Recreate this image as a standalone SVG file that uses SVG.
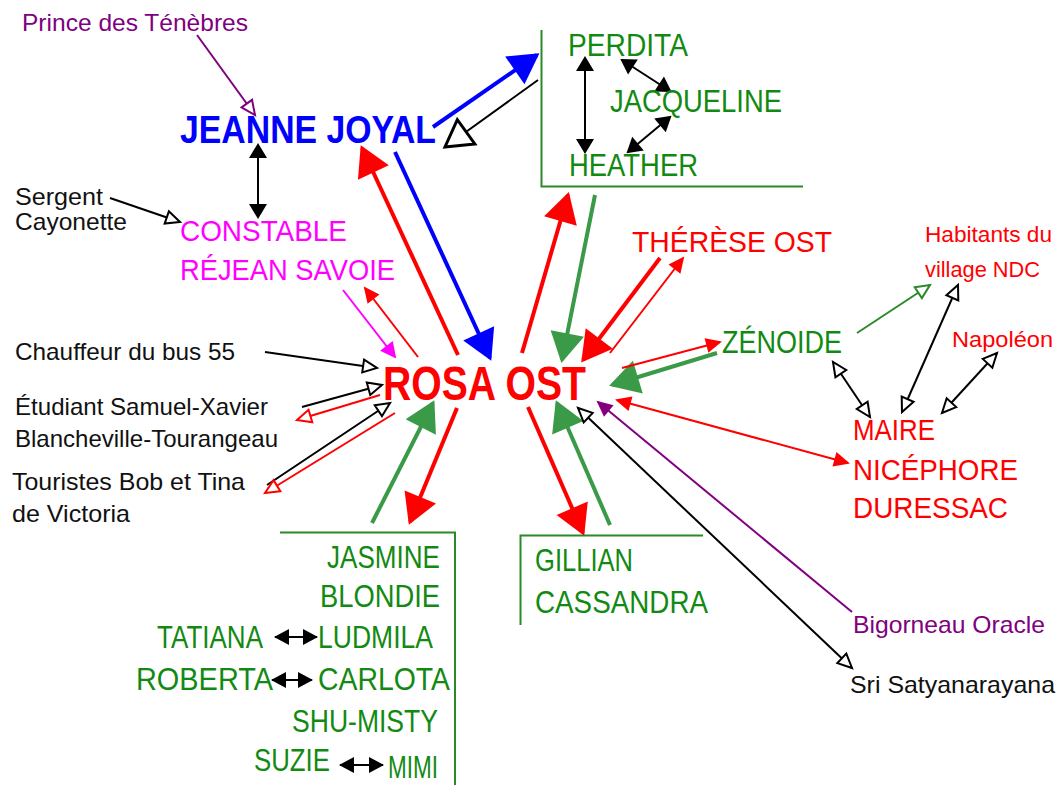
<svg xmlns="http://www.w3.org/2000/svg" width="1060" height="785" viewBox="0 0 1060 785">
<style>
text{font-family:"Liberation Sans",Arial,sans-serif;}
.s{font-size:24px;fill:#111}
.pu{fill:#800080}
.g{font-size:31px;fill:#128a12}
.r{fill:#ff0000}
.rm{font-size:30px;fill:#ff0000}
.mg{font-size:30px;fill:#ff00ff}
.thick{fill:none;stroke-width:4}
.thin{fill:none;stroke-width:2}
.box{fill:none;stroke:#2a8a2a;stroke-width:2}
</style>
<defs>
<marker id="bR" markerUnits="userSpaceOnUse" orient="auto-start-reverse" overflow="visible" refX="27" refY="0"><path d="M0,-17 L30,0 L0,17 Z" fill="#ff0000"/></marker>
<marker id="bB" markerUnits="userSpaceOnUse" orient="auto-start-reverse" overflow="visible" refX="27" refY="0"><path d="M0,-17 L30,0 L0,17 Z" fill="#0000ff"/></marker>
<marker id="bG" markerUnits="userSpaceOnUse" orient="auto-start-reverse" overflow="visible" refX="27" refY="0"><path d="M0,-17 L30,0 L0,17 Z" fill="#3a9a47"/></marker>
<marker id="bOK" markerUnits="userSpaceOnUse" orient="auto-start-reverse" overflow="visible" refX="26" refY="0"><path d="M0,-15 L26,0 L0,15 Z" fill="#fff" stroke="#000" stroke-width="3" stroke-linejoin="miter"/></marker>
<marker id="sK" markerUnits="userSpaceOnUse" orient="auto-start-reverse" overflow="visible" refX="13" refY="0"><path d="M0,-9 L15,0 L0,9 Z" fill="#000"/></marker>
<marker id="tK" markerUnits="userSpaceOnUse" orient="auto-start-reverse" overflow="visible" refX="14" refY="0"><path d="M0,-8 L15,0 L0,8 Z" fill="#000"/></marker>
<marker id="sR" markerUnits="userSpaceOnUse" orient="auto-start-reverse" overflow="visible" refX="14" refY="0"><path d="M0,-7.5 L16,0 L0,7.5 Z" fill="#ff0000"/></marker>
<marker id="sM" markerUnits="userSpaceOnUse" orient="auto-start-reverse" overflow="visible" refX="14" refY="0"><path d="M0,-8 L16,0 L0,8 Z" fill="#ff00ff"/></marker>
<marker id="sP" markerUnits="userSpaceOnUse" orient="auto-start-reverse" overflow="visible" refX="14" refY="0"><path d="M0,-7.5 L16,0 L0,7.5 Z" fill="#800080"/></marker>
<marker id="oK" markerUnits="userSpaceOnUse" orient="auto-start-reverse" overflow="visible" refX="14" refY="0"><path d="M0,-6.5 L14,0 L0,6.5 Z" fill="#fff" stroke="#000" stroke-width="2"/></marker>
<marker id="oR" markerUnits="userSpaceOnUse" orient="auto-start-reverse" overflow="visible" refX="14" refY="0"><path d="M0,-6.5 L14,0 L0,6.5 Z" fill="#fff" stroke="#ff0000" stroke-width="2"/></marker>
<marker id="oG" markerUnits="userSpaceOnUse" orient="auto-start-reverse" overflow="visible" refX="14" refY="0"><path d="M0,-6.5 L14,0 L0,6.5 Z" fill="#fff" stroke="#2a8a2a" stroke-width="2"/></marker>
<marker id="oP" markerUnits="userSpaceOnUse" orient="auto-start-reverse" overflow="visible" refX="14" refY="0"><path d="M0,-6.5 L14,0 L0,6.5 Z" fill="#fff" stroke="#800080" stroke-width="2"/></marker>
</defs>
<rect width="1060" height="785" fill="#fff"/>

<g id="boxes">
<path class="box" d="M541.5,30 V186.5 H803"/>
<path class="box" d="M520.5,625 V535.5 H703"/>
<path class="box" d="M280,532.5 H455 V785"/>
</g>

<g id="connectors">
<path class="thick" stroke="#0000ff" d="M433,127 L537,55" marker-end="url(#bB)"/>
<path class="thin" stroke="#000" stroke-width="3" d="M538,80 L445,147" marker-end="url(#bOK)"/>
<path class="thick" stroke="#ff0000" d="M458,355 L362,148" marker-end="url(#bR)"/>
<path class="thick" stroke="#0000ff" d="M395,152 L490,358" marker-end="url(#bB)"/>
<path class="thick" stroke="#ff0000" d="M522,353 L568,195" marker-end="url(#bR)"/>
<path class="thick" stroke="#3a9a47" d="M595,195 L562,360" marker-end="url(#bG)"/>
<path class="thick" stroke="#ff0000" d="M660,258 L583,360" marker-end="url(#bR)"/>
<path class="thick" stroke="#3a9a47" d="M717,353 L612,385" marker-end="url(#bG)"/>
<path class="thick" stroke="#3a9a47" d="M372,523 L433,403" marker-end="url(#bG)"/>
<path class="thick" stroke="#ff0000" d="M457,408 L410,522" marker-end="url(#bR)"/>
<path class="thick" stroke="#ff0000" d="M528,407 L583,533" marker-end="url(#bR)"/>
<path class="thick" stroke="#3a9a47" d="M610,525 L557,403" marker-end="url(#bG)"/>

<path class="thin" stroke="#800080" d="M197,35 L255,115" marker-end="url(#oP)"/>
<path class="thin" stroke="#000" stroke-width="3" d="M258,145 L258,217" marker-start="url(#sK)" marker-end="url(#sK)"/>
<path class="thin" stroke="#000" d="M110,198 L180,222" marker-end="url(#oK)"/>
<path class="thin" stroke="#ff00ff" d="M343,290 L395,357" marker-end="url(#sM)"/>
<path class="thin" stroke="#ff0000" d="M418,357 L365,288" marker-end="url(#sR)"/>
<path class="thin" stroke="#000" d="M265,352 L377,368" marker-end="url(#oK)"/>
<path class="thin" stroke="#000" d="M302,407 L382,385" marker-end="url(#oK)"/>
<path class="thin" stroke="#ff0000" d="M380,395 L297,420" marker-end="url(#oR)"/>
<path class="thin" stroke="#000" d="M267,485 L390,403" marker-end="url(#oK)"/>
<path class="thin" stroke="#ff0000" d="M395,413 L265,493" marker-end="url(#oR)"/>
<path class="thin" stroke="#ff0000" d="M610,353 L683,258" marker-end="url(#sR)"/>
<path class="thin" stroke="#ff0000" d="M622,368 L720,342" marker-end="url(#sR)"/>
<path class="thin" stroke="#2a8a2a" d="M857,333 L930,285" marker-end="url(#oG)"/>
<path class="thin" stroke="#000" d="M833,362 L870,417" marker-start="url(#oK)" marker-end="url(#oK)"/>
<path class="thin" stroke="#000" d="M958,285 L902,412" marker-start="url(#oK)" marker-end="url(#oK)"/>
<path class="thin" stroke="#000" d="M997,353 L942,413" marker-start="url(#oK)" marker-end="url(#oK)"/>
<path class="thin" stroke="#ff0000" d="M617,400 L848,463" marker-start="url(#sR)" marker-end="url(#sR)"/>
<path class="thin" stroke="#800080" d="M852,612 L598,402" marker-end="url(#sP)"/>
<path class="thin" stroke="#000" d="M852,668 L578,408" marker-start="url(#oK)" marker-end="url(#oK)"/>
<path class="thin" stroke="#000" d="M585,58 L585,152" marker-start="url(#sK)" marker-end="url(#sK)"/>
<path class="thin" stroke="#000" d="M622,60 L670,91" marker-start="url(#sK)" marker-end="url(#sK)"/>
<path class="thin" stroke="#000" d="M670,117 L628,152" marker-start="url(#sK)" marker-end="url(#sK)"/>
<path class="thin" stroke="#000" stroke-width="2.5" d="M275,637 L317,637" marker-start="url(#tK)" marker-end="url(#tK)"/>
<path class="thin" stroke="#000" stroke-width="2.5" d="M272,680 L312,680" marker-start="url(#tK)" marker-end="url(#tK)"/>
<path class="thin" stroke="#000" stroke-width="2.5" d="M340,765 L383,765" marker-start="url(#tK)" marker-end="url(#tK)"/>
</g>

<g id="prince"><text class="s pu" x="22" y="31" textLength="226" lengthAdjust="spacingAndGlyphs">Prince des Ténèbres</text></g>
<g id="jeanne"><text x="180" y="143" font-size="38" font-weight="bold" fill="#0000ff" textLength="256" lengthAdjust="spacingAndGlyphs">JEANNE JOYAL</text></g>
<g id="sergent"><text class="s" x="15" y="205" textLength="88" lengthAdjust="spacingAndGlyphs">Sergent</text><text class="s" x="15" y="230" textLength="112" lengthAdjust="spacingAndGlyphs">Cayonette</text></g>
<g id="constable"><text class="mg" x="180" y="241" textLength="167" lengthAdjust="spacingAndGlyphs">CONSTABLE</text><text class="mg" x="180" y="280" textLength="215" lengthAdjust="spacingAndGlyphs">RÉJEAN SAVOIE</text></g>
<g id="soeurs1">
<text class="g" x="568" y="56" textLength="120" lengthAdjust="spacingAndGlyphs">PERDITA</text>
<text class="g" x="610" y="112" textLength="172" lengthAdjust="spacingAndGlyphs">JACQUELINE</text>
<text class="g" x="569" y="176" textLength="129" lengthAdjust="spacingAndGlyphs">HEATHER</text>
</g>
<g id="therese"><text class="rm" x="632" y="252" textLength="200" lengthAdjust="spacingAndGlyphs">THÉRÈSE OST</text></g>
<g id="habitants"><text class="r" font-size="22" x="925" y="242" textLength="127" lengthAdjust="spacingAndGlyphs">Habitants du</text><text class="r" font-size="22" x="925" y="277" textLength="115" lengthAdjust="spacingAndGlyphs">village NDC</text></g>
<g id="zenoide"><text class="g" x="722" y="353" textLength="120" lengthAdjust="spacingAndGlyphs">ZÉNOIDE</text></g>
<g id="napoleon"><text class="r" font-size="22" x="952" y="347" textLength="101" lengthAdjust="spacingAndGlyphs">Napoléon</text></g>
<g id="chauffeur"><text class="s" x="15" y="360" textLength="220" lengthAdjust="spacingAndGlyphs">Chauffeur du bus 55</text></g>
<g id="rosa"><text x="383" y="400" font-size="49" font-weight="bold" fill="#ff0000" textLength="203" lengthAdjust="spacingAndGlyphs">ROSA OST</text></g>
<g id="etudiant"><text class="s" x="15" y="415" textLength="253" lengthAdjust="spacingAndGlyphs">Étudiant Samuel-Xavier</text><text class="s" x="15" y="447" textLength="263" lengthAdjust="spacingAndGlyphs">Blancheville-Tourangeau</text></g>
<g id="touristes"><text class="s" x="12" y="490" textLength="233" lengthAdjust="spacingAndGlyphs">Touristes Bob et Tina</text><text class="s" x="12" y="522" textLength="118" lengthAdjust="spacingAndGlyphs">de Victoria</text></g>
<g id="maire">
<text class="rm" x="853" y="440" textLength="82" lengthAdjust="spacingAndGlyphs">MAIRE</text>
<text class="rm" x="853" y="480" textLength="165" lengthAdjust="spacingAndGlyphs">NICÉPHORE</text>
<text class="rm" x="853" y="518" textLength="155" lengthAdjust="spacingAndGlyphs">DURESSAC</text>
</g>
<g id="soeurs2"><text class="g" x="535" y="571" textLength="98" lengthAdjust="spacingAndGlyphs">GILLIAN</text><text class="g" x="535" y="613" textLength="173" lengthAdjust="spacingAndGlyphs">CASSANDRA</text></g>
<g id="bigorneau"><text class="s pu" x="853" y="633" textLength="192" lengthAdjust="spacingAndGlyphs">Bigorneau Oracle</text></g>
<g id="sri"><text class="s" x="850" y="693" textLength="205" lengthAdjust="spacingAndGlyphs">Sri Satyanarayana</text></g>
<g id="soeurs3">
<text class="g" x="327" y="568" textLength="113" lengthAdjust="spacingAndGlyphs">JASMINE</text>
<text class="g" x="320" y="607" textLength="120" lengthAdjust="spacingAndGlyphs">BLONDIE</text>
<text class="g" x="157" y="648" textLength="106" lengthAdjust="spacingAndGlyphs">TATIANA</text>
<text class="g" x="318" y="648" textLength="115" lengthAdjust="spacingAndGlyphs">LUDMILA</text>
<text class="g" x="136" y="690" textLength="137" lengthAdjust="spacingAndGlyphs">ROBERTA</text>
<text class="g" x="318" y="690" textLength="132" lengthAdjust="spacingAndGlyphs">CARLOTA</text>
<text class="g" x="292" y="732" textLength="146" lengthAdjust="spacingAndGlyphs">SHU-MISTY</text>
<text class="g" x="254" y="771" textLength="76" lengthAdjust="spacingAndGlyphs">SUZIE</text>
<text class="g" x="388" y="778" font-size="33" textLength="50" lengthAdjust="spacingAndGlyphs">MIMI</text>
</g>
</svg>
